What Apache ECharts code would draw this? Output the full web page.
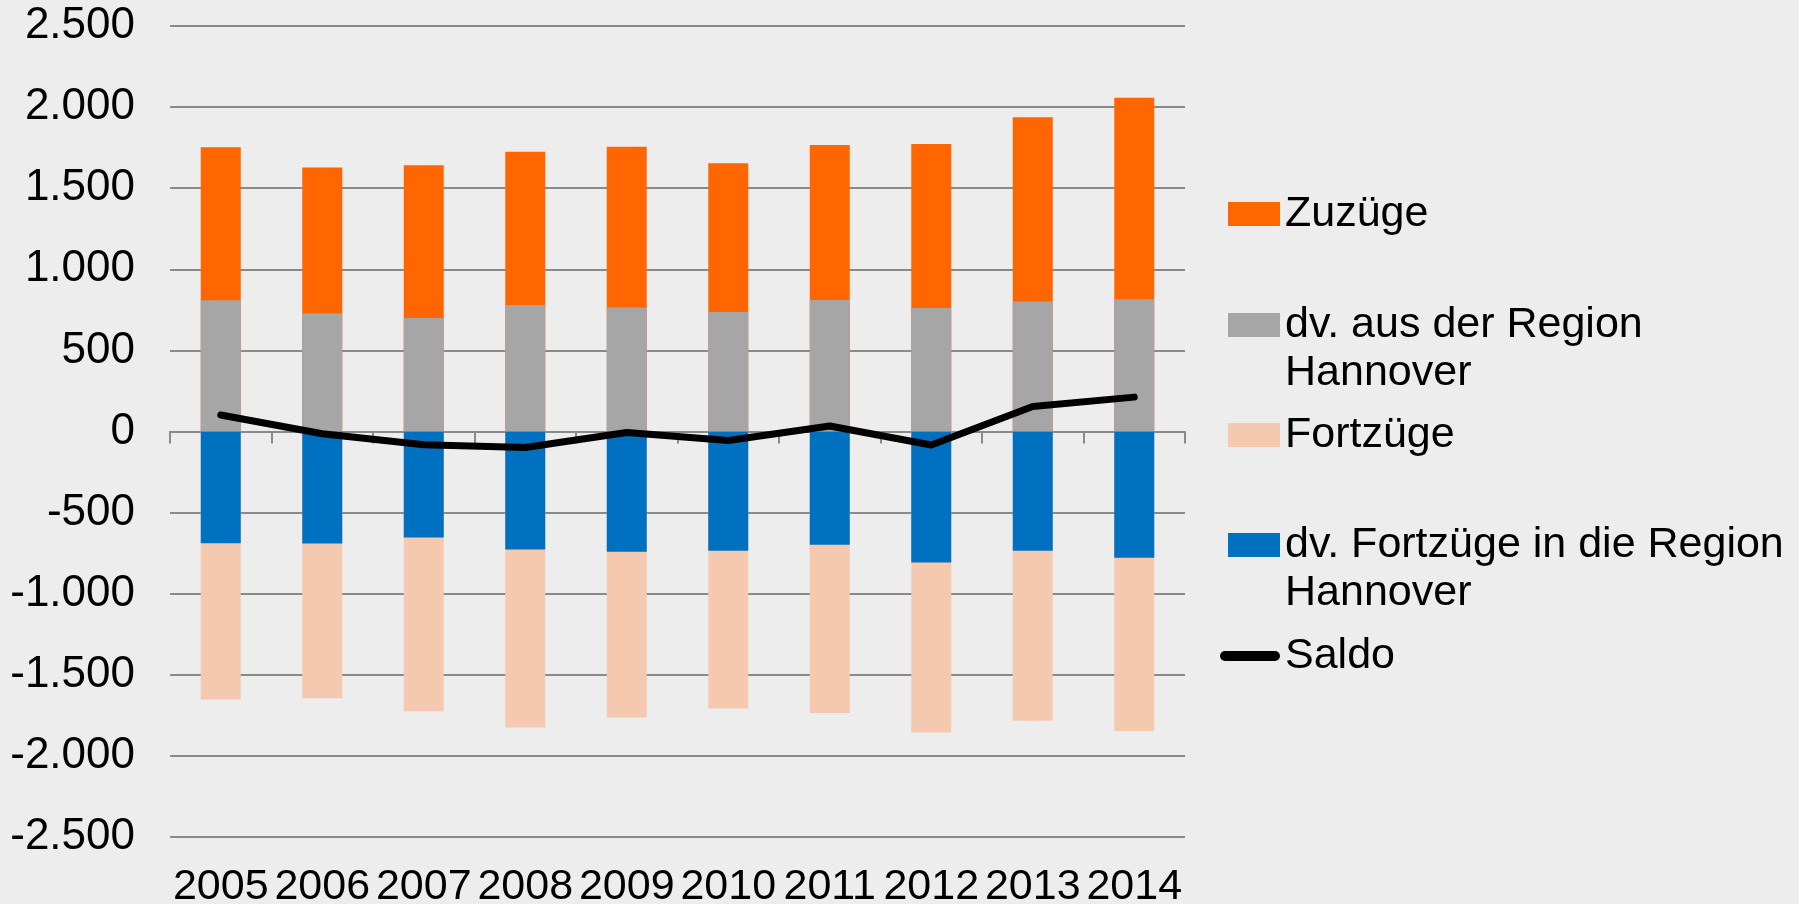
<!DOCTYPE html>
<html>
<head>
<meta charset="utf-8">
<script src="https://cdn.jsdelivr.net/npm/echarts@6/dist/echarts.min.js"></script>
<style>
    html, body { margin: 0; padding: 0; background: #ededed; }
    #chart { width: 1799px; height: 904px; }
</style>
</head>
<body>
<div id="chart"></div>
<script>
const years = ['2005', '2006', '2007', '2008', '2009', '2010', '2011', '2012', '2013', '2014']

// Wanderungen, Werte
const zuzuege = [1753, 1628, 1642, 1724, 1755, 1654, 1767, 1772, 1938, 2058]
const ausRegion = [809, 728, 700, 780, 765, 737, 811, 761, 802, 815]
const fortzuege = [-1652, -1644, -1724, -1825, -1763, -1708, -1735, -1856, -1784, -1846]
const inRegion = [-689, -691, -654, -728, -741, -735, -698, -807, -735, -778]
const saldo = [102, -14, -82, -99, -6, -55, 34, -83, 154, 212]

const yMin = -2500
const yMax = 2500
const yStep = 500

const FONT = '"Liberation Sans", Arial, sans-serif'
const GRID_COLOR = '#8a8a8a'

const seriesNames = ['Zuzüge', 'dv. aus der Region Hannover', 'Fortzüge', 'dv. Fortzüge in die Region Hannover', 'Saldo']
const seriesColors = ['#ff6600', '#a6a6a6', '#f4c9b0', '#0070c0', '#000000']

// Legendentexte mit Zeilenumbruch wie im Original
const legendLabels = {
    'dv. aus der Region Hannover': 'dv. aus der Region\nHannover',
    'dv. Fortzüge in die Region Hannover': 'dv. Fortzüge in die Region\nHannover'
}

// 2500 -> "2.500"
const formatNum = (v) => {
    let s = String(Math.abs(v)).replace(/\B(?=(\d{3})+(?!\d))/g, '.')
    return (v < 0 ? '-' : '') + s
}

const setChart = () => {
    let myChart = echarts.init(document.getElementById('chart'))

    // eine Legende pro Eintrag, damit das Symbol an der ersten Textzeile steht
    const rowCenters = [214, 325, 435, 545, 656]
    let legends = seriesNames.map((name, i) => {
        const label = legendLabels[name]
        const isLine = name === 'Saldo'
        return {
            data: [name],
            left: isLine ? 1220 : 1228,
            top: rowCenters[i] - (label ? 72 : 24),
            padding: 0,
            itemWidth: isLine ? 60 : 52,
            itemHeight: isLine ? 10 : 24,
            icon: isLine ? 'path://M5,0 H55 A5,5 0 0 1 55,10 H5 A5,5 0 0 1 5,0 Z' : 'rect',
            selectedMode: false,
            formatter: (n) => legendLabels[n] ? '\n' + legendLabels[n] : n,
            textStyle: { fontFamily: FONT, fontSize: 43, lineHeight: 48, color: '#000' }
        }
    })

    let barSeries = [zuzuege, ausRegion, fortzuege, inRegion].map((values, i) => ({
        name: seriesNames[i],
        type: 'bar',
        xAxisIndex: 0,
        data: values,
        barWidth: 40,
        barGap: '-100%',
        itemStyle: { color: seriesColors[i] },
        z: 2
    }))

    let option = {
        backgroundColor: '#ededed',
        animation: false,
        legend: legends,
        grid: {
            left: 170,
            right: 614,
            top: 26,
            bottom: 67,
            containLabel: false,
            outerBoundsMode: 'none'
        },
        xAxis: [
            {
                type: 'category',
                data: years,
                position: 'bottom',
                axisLine: { show: false, onZero: false },
                axisTick: { show: false },
                axisLabel: { fontFamily: FONT, fontSize: 43, color: '#000', margin: 29, interval: 0 },
                splitLine: { show: false }
            },
            {
                type: 'category',
                data: years,
                position: 'bottom',
                axisLine: { show: true, onZero: true, lineStyle: { color: GRID_COLOR, width: 2 } },
                axisTick: { show: true, length: 12, lineStyle: { color: GRID_COLOR, width: 2 } },
                axisLabel: { show: false },
                splitLine: { show: false }
            }
        ],
        yAxis: {
            type: 'value',
            min: yMin,
            max: yMax,
            interval: yStep,
            axisLine: { show: false },
            axisTick: { show: false },
            axisLabel: {
                fontFamily: FONT, fontSize: 44, color: '#000', margin: 35,
                formatter: formatNum
            },
            splitLine: { lineStyle: { color: GRID_COLOR, width: 2 } }
        },
        series: barSeries.concat([{
            name: 'Saldo',
            type: 'line',
            xAxisIndex: 0,
            data: saldo,
            symbol: 'none',
            lineStyle: { color: '#000', width: 7, cap: 'round', join: 'round' },
            itemStyle: { color: '#000' },
            z: 5
        }])
    }

    myChart.setOption(option)
}

setChart()
</script>
</body>
</html>
